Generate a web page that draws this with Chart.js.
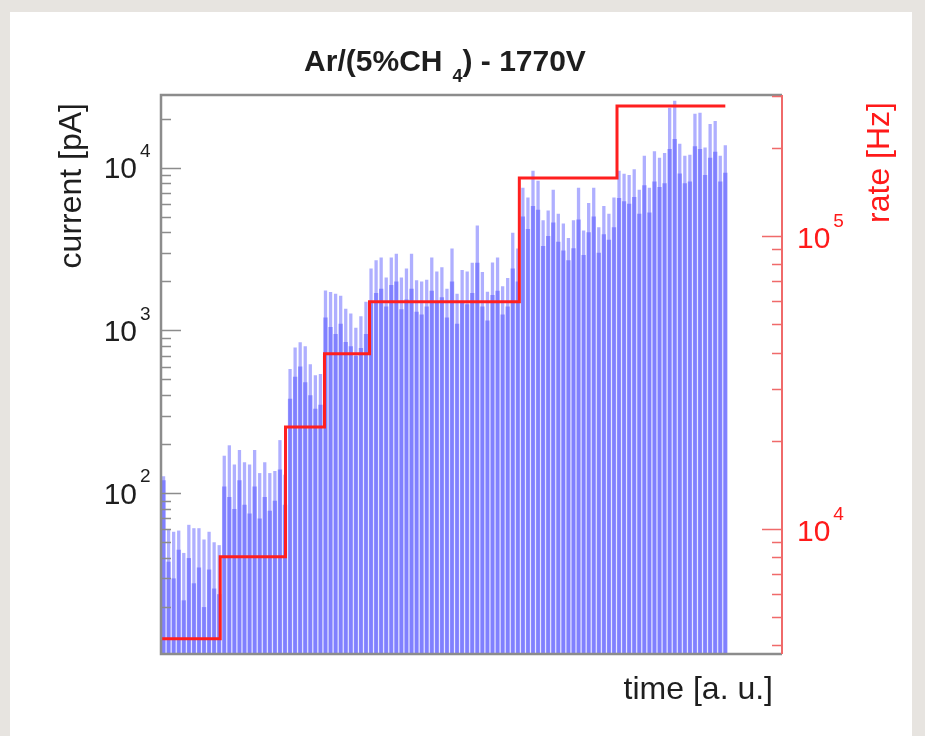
<!DOCTYPE html>
<html>
<head>
<meta charset="utf-8">
<title>Ar/(5%CH4) - 1770V</title>
<script src="https://cdn.jsdelivr.net/npm/chart.js@4/dist/chart.umd.min.js"></script>
<style>
    html, body { margin: 0; padding: 0; background: #e7e4e0; }
    #panel { position: absolute; left: 10px; top: 12px; width: 902px; height: 724px; background: #ffffff; }
    #wrap { position: absolute; left: 0; top: 0; width: 925px; height: 736px; }
</style>
</head>
<body>
<div id="panel"></div>
<div id="wrap"><canvas id="rateChart" width="925" height="736"></canvas></div>
<script>
// Current per time bin [pA]: upper envelope (light) and dense part (dark)
const currentPeak = [
    127, 60, 58, 59, 43, 64, 61, 61, 52, 58, 50, 48,
    170, 197, 150, 184, 155, 150, 184, 133, 155, 133, 137, 212, 130,
    580, 786, 846, 800, 620, 530, 540,
    1760, 1720, 1680, 1630, 1360, 1270, 1040, 1220, 1500, 2400,
    2700, 2800, 2110, 2800, 2960, 2110, 2400, 2960, 2030, 2000, 2050, 2800, 2300, 2440, 1800,
    3180, 1680, 2350, 2300, 2600, 4400, 2280, 1730, 2610, 2800, 1870, 2100, 3980, 3180,
    7520, 6540, 9560, 8300, 4740, 5450, 7300, 5200, 4530, 3700, 4740, 7520, 4100, 6050, 7520,
    4300, 5800, 5200, 6540,
    9560, 9150, 9000, 9780, 7300, 11800, 7520, 12600, 11500, 12300, 23300, 25700, 14000, 11800,
    12000, 21400, 21700, 13300, 18500, 19300, 11800, 13700
];
const currentBase = [
    120, 38, 30, 45, 22, 40, 28, 35, 20, 34, 26, 24,
    110, 95, 80, 120, 85, 75, 110, 70, 95, 78, 90, 140, 85,
    380, 520, 600, 480, 400, 330, 350,
    1200, 1050, 950, 1100, 850, 800, 700, 780, 950, 1500,
    1700, 1800, 1400, 1900, 2000, 1350, 1550, 1800, 1300, 1250, 1400, 1750, 1500, 1600, 1200,
    2000, 1100, 1500, 1450, 1700, 2600, 1400, 1150, 1650, 1750, 1250, 1400, 2400, 2000,
    5000, 4200, 5800, 5500, 3300, 3800, 4600, 3500, 3100, 2700, 3200, 4800, 2900, 4000, 5000,
    3000, 3900, 3600, 4300,
    6500, 6200, 6000, 6600, 5200, 7800, 5300, 8200, 7600, 8000, 13000, 15000, 9200, 8000,
    8200, 13500, 13000, 9000, 11500, 12500, 8200, 9300
];

// Rate steps [Hz]: step start times (a.u.) and levels, last entry closes the final step
const rateTimes  = [0, 11.7, 24.6, 32.3, 41.2, 70.8, 90.1, 111.5];
const rateLevels = [4220, 8030, 22300, 39600, 59600, 157700, 278000, 278000];

// Axis ranges and labelled decades
const timeRange = [0, 122.7];
const currentRange = [10.3, 27900];
const rateRange = [3740, 303000];
const currentTickExps = [2, 3, 4];
const rateTickExps = [4, 5];

const FONT = '"Liberation Sans", Arial, Helvetica, sans-serif';

const binPoints = arr => arr.map((v, i) => ({ x: i + 0.5, y: v }));
const ratePoints = rateTimes.map((t, i) => ({ x: t, y: rateLevels[i] }));

// log ticks: major at decades, minor at 2..9
function drawLogTicks(ctx, scale, range, x, dir, color) {
    ctx.strokeStyle = color;
    ctx.lineWidth = 1.5;
    const e0 = Math.floor(Math.log10(range[0]));
    const e1 = Math.ceil(Math.log10(range[1]));
    ctx.beginPath();
    for (let e = e0; e <= e1; e++) {
        for (let m = 1; m <= 9; m++) {
            const v = m * Math.pow(10, e);
            if (v < range[0] || v > range[1]) continue;
            const y = Math.round(scale.getPixelForValue(v)) + 0.5;
            const len = m === 1 ? 20 : 10;
            ctx.moveTo(x, y);
            ctx.lineTo(x + dir * len, y);
        }
    }
    ctx.stroke();
}

function drawPower(ctx, x, y, exp, align, color) {
    ctx.fillStyle = color;
    ctx.textBaseline = 'middle';
    ctx.font = '30px ' + FONT;
    const w = ctx.measureText('10').width;
    const left = align === 'right' ? x - w : x;
    ctx.textAlign = 'left';
    ctx.fillText('10', left, y);
    ctx.font = '19px ' + FONT;
    ctx.fillText(String(exp), left + w + 3, y - 18);
}

const framePlugin = {
    id: 'framePlugin',
    afterDraw(chart) {
        const { ctx, chartArea: a, scales } = chart;
        ctx.save();

        // grey frame on left, top and bottom
        ctx.strokeStyle = '#8c8c8c';
        ctx.lineWidth = 2.5;
        ctx.beginPath();
        ctx.moveTo(a.right, a.top);
        ctx.lineTo(a.left, a.top);
        ctx.lineTo(a.left, a.bottom);
        ctx.lineTo(a.right, a.bottom);
        ctx.stroke();

        // red rate axis on the right
        ctx.strokeStyle = '#f06a6a';
        ctx.lineWidth = 2;
        ctx.beginPath();
        ctx.moveTo(a.right, a.top);
        ctx.lineTo(a.right, a.bottom);
        ctx.stroke();

        drawLogTicks(ctx, scales.yCur, currentRange, a.left, 1, '#8c8c8c');
        drawLogTicks(ctx, scales.yRate, rateRange, a.right, -1, '#f06a6a');

        currentTickExps.forEach(e => {
            const y = scales.yCur.getPixelForValue(Math.pow(10, e));
            drawPower(ctx, a.left - 24, y + 2, e, 'right', '#1e1e1e');
        });
        rateTickExps.forEach(e => {
            const y = scales.yRate.getPixelForValue(Math.pow(10, e));
            drawPower(ctx, a.right + 15, y + 4, e, 'left', '#ff1a1a');
        });

        // axis titles
        ctx.font = '32px ' + FONT;
        ctx.textBaseline = 'middle';
        ctx.textAlign = 'right';
        ctx.fillStyle = '#1e1e1e';
        ctx.save();
        ctx.translate(72, a.top + 8);
        ctx.rotate(-Math.PI / 2);
        ctx.fillText('current [pA]', 0, 0);
        ctx.restore();

        ctx.fillStyle = '#ff1a1a';
        ctx.save();
        ctx.translate(880, a.top + 7);
        ctx.rotate(-Math.PI / 2);
        ctx.fillText('rate [Hz]', 0, 0);
        ctx.restore();

        ctx.fillStyle = '#1e1e1e';
        ctx.fillText('time [a. u.]', a.right - 9, a.bottom + 36);

        // title with subscript
        const t1 = 'Ar/(5%CH', sub = '4', t2 = ') - 1770V';
        ctx.font = 'bold 30px ' + FONT;
        const w1 = ctx.measureText(t1).width;
        const w2 = ctx.measureText(t2).width;
        ctx.font = 'bold 18px ' + FONT;
        const ws = ctx.measureText(sub).width;
        const gap = 10;
        const total = w1 + gap + ws + w2;
        const x = 445 - total / 2;
        const base = 71;
        ctx.textAlign = 'left';
        ctx.textBaseline = 'alphabetic';
        ctx.font = 'bold 30px ' + FONT;
        ctx.fillText(t1, x, base);
        ctx.font = 'bold 18px ' + FONT;
        ctx.fillText(sub, x + w1 + gap, base + 11);
        ctx.font = 'bold 30px ' + FONT;
        ctx.fillText(t2, x + w1 + gap + ws, base);

        ctx.restore();
    }
};

new Chart(document.getElementById('rateChart').getContext('2d'), {
    data: {
        datasets: [
            {
                type: 'line',
                label: 'rate',
                data: ratePoints,
                xAxisID: 'x',
                yAxisID: 'yRate',
                stepped: true,
                borderColor: '#ff1f1f',
                borderWidth: 3,
                pointRadius: 0,
                fill: false,
                order: 0
            },
            {
                type: 'bar',
                label: 'current (dense)',
                data: binPoints(currentBase),
                xAxisID: 'x',
                yAxisID: 'yCur',
                backgroundColor: 'rgba(100, 100, 255, 0.62)',
                barPercentage: 0.85,
                categoryPercentage: 1,
                grouped: false,
                order: 1
            },
            {
                type: 'bar',
                label: 'current',
                data: binPoints(currentPeak),
                xAxisID: 'x',
                yAxisID: 'yCur',
                backgroundColor: 'rgba(110, 110, 255, 0.55)',
                barPercentage: 0.65,
                categoryPercentage: 1,
                grouped: false,
                order: 2
            }
        ]
    },
    options: {
        responsive: false,
        animation: false,
        devicePixelRatio: 1,
        layout: { padding: { left: 161, top: 95, right: 143, bottom: 82 } },
        plugins: {
            legend: { display: false },
            tooltip: { enabled: false },
            title: { display: false }
        },
        scales: {
            x: { type: 'linear', display: false, min: timeRange[0], max: timeRange[1], offset: false },
            yCur: { type: 'logarithmic', display: false, position: 'left', min: currentRange[0], max: currentRange[1] },
            yRate: { type: 'logarithmic', display: false, position: 'right', min: rateRange[0], max: rateRange[1] }
        }
    },
    plugins: [framePlugin]
});
</script>
</body>
</html>
